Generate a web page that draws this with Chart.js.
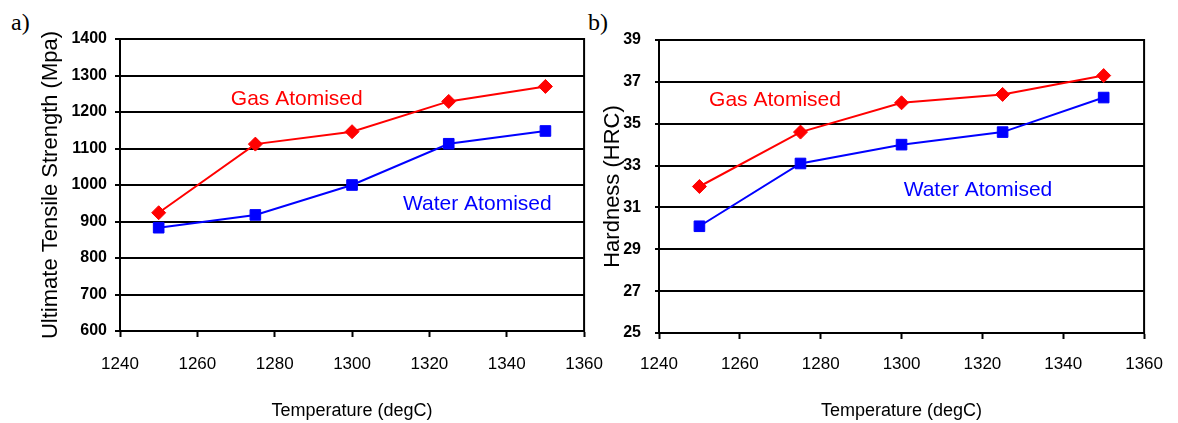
<!DOCTYPE html>
<html>
<head>
<meta charset="utf-8">
<script src="https://cdn.jsdelivr.net/npm/chart.js@4.4.1/dist/chart.umd.min.js"></script>
<style>
	html, body { margin: 0; padding: 0; background: #fff; }
	body { width: 1178px; height: 423px; position: relative; overflow: hidden; }
	.panel { position: absolute; top: 0; height: 423px; }
	#panel-a { left: 0; width: 620px; }
	#panel-b { left: 590px; width: 588px; }
	.tag { position: absolute; top: 9px; font-family: "Liberation Serif", "Times New Roman", serif; font-size: 24px; color: #000; }
</style>
</head>
<body>
<div class="tag" style="left:11px">a)</div>
<div class="tag" style="left:588px">b)</div>
<div class="panel" id="panel-a"><canvas id="chart-uts"></canvas></div>
<div class="panel" id="panel-b"><canvas id="chart-hrc"></canvas></div>
<script>
// Chart data
const TEMPS = [1250, 1275, 1300, 1325, 1350];
const UTS_GAS = [924, 1112, 1146, 1229, 1270];
const UTS_WATER = [883, 918, 1000, 1113, 1148];
const HRC_GAS = [32.0, 34.6, 36.0, 36.4, 37.3];
const HRC_WATER = [30.1, 33.1, 34.0, 34.6, 36.25];

const X_TICKS = [1240, 1260, 1280, 1300, 1320, 1340, 1360];
const UTS_TICKS = [600, 700, 800, 900, 1000, 1100, 1200, 1300, 1400];
const HRC_TICKS = [25, 27, 29, 31, 33, 35, 37, 39];

const RED = "#ff0000";
const BLUE = "#0000ff";
const SANS = "'Liberation Sans', Arial, sans-serif";

const points = (values) => TEMPS.map((t, i) => ({ x: t, y: values[i] }));
const fixedTicks = (list) => (scale) => {
	scale.ticks = list.map((v) => ({ value: v }));
};
const plain = (v) => String(v);

const gasSeries = (values) => ({
	label: "Gas Atomised",
	data: points(values),
	borderColor: RED,
	backgroundColor: RED,
	borderWidth: 2,
	pointStyle: "rectRot",
	pointRadius: 7,
	pointBorderWidth: 1,
	tension: 0,
});

const waterSeries = (values) => ({
	label: "Water Atomised",
	data: points(values),
	borderColor: BLUE,
	backgroundColor: BLUE,
	borderWidth: 2,
	pointStyle: "rect",
	pointRadius: 7.5,
	pointBorderWidth: 1,
	tension: 0,
});

// right edge of the plot frame
const frameRight = {
	id: "frameRight",
	beforeDatasetsDraw(chart) {
		const { ctx, chartArea } = chart;
		ctx.save();
		ctx.strokeStyle = "#000";
		ctx.lineWidth = 2;
		ctx.beginPath();
		ctx.moveTo(chartArea.right, chartArea.top - 1);
		ctx.lineTo(chartArea.right, chartArea.bottom + 1);
		ctx.stroke();
		ctx.restore();
	},
};

// series names written inside the plot, placed in data units
const seriesLabels = (items) => ({
	id: "seriesLabels",
	afterDatasetsDraw(chart) {
		const { ctx, scales } = chart;
		ctx.save();
		ctx.font = "21px " + SANS;
		ctx.textAlign = "center";
		ctx.textBaseline = "middle";
		items.forEach((it) => {
			ctx.fillStyle = it.color;
			ctx.fillText(it.text, scales.x.getPixelForValue(it.x), scales.y.getPixelForValue(it.y));
		});
		ctx.restore();
	},
});

const buildConfig = (opts) => ({
	type: "line",
	data: {
		datasets: [gasSeries(opts.gas), waterSeries(opts.water)],
	},
	options: {
		responsive: true,
		maintainAspectRatio: false,
		animation: false,
		layout: {
			autoPadding: false,
			padding: opts.padding,
		},
		plugins: {
			legend: { display: false },
			tooltip: { enabled: false },
		},
		scales: {
			x: {
				type: "linear",
				min: 1240,
				max: 1360,
				afterBuildTicks: fixedTicks(X_TICKS),
				afterFit: (scale) => { scale.height = opts.xHeight; },
				border: { display: true, color: "#000", width: 2 },
				grid: {
					drawOnChartArea: false,
					drawTicks: true,
					tickLength: 6,
					tickColor: "#000",
					tickWidth: 2,
				},
				ticks: {
					color: "#000",
					padding: opts.xTickPad,
					maxRotation: 0,
					callback: plain,
					font: { family: SANS, size: 17 },
				},
				title: {
					display: true,
					text: "Temperature (degC)",
					color: "#000",
					padding: 0,
					font: { family: SANS, size: 18 },
				},
			},
			y: {
				min: opts.min,
				max: opts.max,
				afterBuildTicks: fixedTicks(opts.yTicks),
				afterFit: (scale) => { scale.width = opts.yWidth; },
				border: { display: true, color: "#000", width: 2 },
				grid: {
					color: "#000",
					lineWidth: 2,
					tickLength: opts.yTickLen,
				},
				ticks: {
					color: "#000",
					padding: opts.yTickPad,
					callback: plain,
					font: { family: SANS, size: 16, weight: "bold" },
				},
				title: {
					display: true,
					text: opts.yTitle,
					color: "#000",
					padding: 0,
					font: { family: SANS, size: 22 },
				},
			},
		},
	},
	plugins: [frameRight, seriesLabels(opts.labels)],
});

new Chart(document.getElementById("chart-uts"), buildConfig({
	gas: UTS_GAS,
	water: UTS_WATER,
	min: 600,
	max: 1400,
	yTicks: UTS_TICKS,
	yTitle: "Ultimate Tensile Strength (Mpa)",
	padding: { left: 38, right: 33, top: 39, bottom: 1 },
	yWidth: 82,
	xHeight: 91,
	xTickPad: 17,
	yTickLen: 5,
	yTickPad: 8,
	labels: [
		{ text: "Gas Atomised", color: RED, x: 1285.7, y: 1236 },
		{ text: "Water Atomised", color: BLUE, x: 1332.4, y: 948 },
	],
}));

new Chart(document.getElementById("chart-hrc"), buildConfig({
	gas: HRC_GAS,
	water: HRC_WATER,
	min: 25,
	max: 39,
	yTicks: HRC_TICKS,
	yTitle: "Hardness (HRC)",
	padding: { left: 10, right: 29, top: 40, bottom: 1 },
	yWidth: 59,
	xHeight: 89,
	xTickPad: 15,
	yTickLen: 4,
	yTickPad: 14,
	labels: [
		{ text: "Gas Atomised", color: RED, x: 1268.7, y: 36.13 },
		{ text: "Water Atomised", color: BLUE, x: 1318.9, y: 31.82 },
	],
}));
</script>
</body>
</html>
